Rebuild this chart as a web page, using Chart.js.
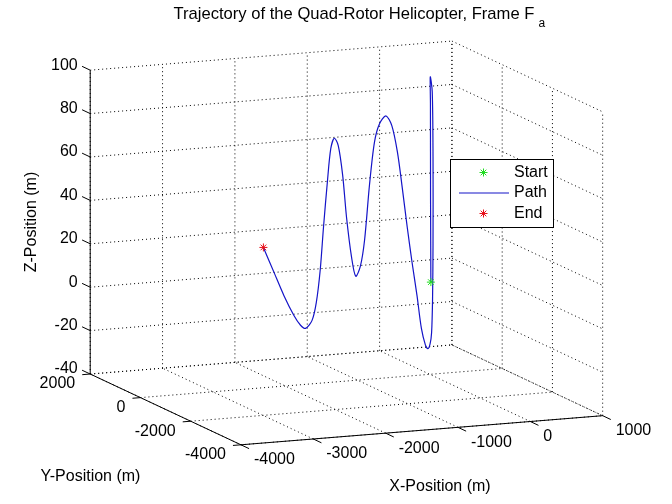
<!DOCTYPE html>
<html>
<head>
<meta charset="utf-8">
<script src="https://cdn.jsdelivr.net/npm/chart.js@4/dist/chart.umd.min.js"></script>
<style>
  html, body { margin: 0; padding: 0; background: #fff; }
  #wrap { width: 672px; height: 504px; position: relative; }
</style>
</head>
<body>
<div id="wrap"><canvas id="traj"></canvas></div>
<script>
// Axis ticks (limits are the first and last tick)
const xTicks = [-4000, -3000, -2000, -1000, 0, 1000];
const yTicks = [-4000, -2000, 0, 2000];
const zTicks = [-40, -20, 0, 20, 40, 60, 80, 100];

// Trajectory (m), from Start to End
const pathX = [17, 12, 10, 7, 40, 53, 53, 45, 29, 4,
    -32, -75, -141, -214, -296, -378, -461, -543, -635, -734,
    -845, -927, -1009, -1092, -1163, -1240, -1311, -1393, -1459, -1532,
    -1598, -1657, -1713, -1779, -1833, -1899, -1970, -2080, -2163, -2273,
    -2438, -2603, -2784];
const pathY = [8, 6, 5, 3, 20, 26, 26, 22, 14, 2,
    -16, -38, -70, -107, -148, -189, -230, -272, -318, -367,
    -422, -464, -504, -546, -582, -620, -656, -696, -730, -766,
    -799, -828, -856, -890, -916, -950, -985, -1040, -1082, -1136,
    -1219, -1302, -1392];
const pathZ = [2.4, 40, 85, 97, 90, 60, 20, -6, -21, -26,
    -28.0, -26.0, -18.1, -2.7, 12.9, 29.8, 48.4, 65.4, 77.9, 83.0,
    79.8, 71.9, 52.8, 27.7, 16.0, 11.9, 21.3, 39.8, 59.8, 73.7,
    77.4, 72.9, 58.1, 37.4, 18.1, 3.4, -4.5, -7.6, -5.7, -0.6,
    9.3, 20.8, 33.5];

const legendLabels = ['Start', 'Path', 'End'];
const seriesColors = { start: '#22dd22', path: '#1414c8', end: '#e8101a' };

// 3D view: screen position of the (xMin, yMin, zMin) corner and of each box edge
const view = {
    origin: { u: 239.5, v: 448.7 },
    ex: { u: 367.2, v: -29.7 },
    ey: { u: -153.0, v: -72.2 },
    ez: { u: 0, v: -310.0 }
};
const xLim = [xTicks[0], xTicks[xTicks.length - 1]];
const yLim = [yTicks[0], yTicks[yTicks.length - 1]];
const zLim = [zTicks[0], zTicks[zTicks.length - 1]];

function project(x, y, z) {
    const nx = (x - xLim[0]) / (xLim[1] - xLim[0]);
    const ny = (y - yLim[0]) / (yLim[1] - yLim[0]);
    const nz = (z - zLim[0]) / (zLim[1] - zLim[0]);
    return {
        x: view.origin.u + nx * view.ex.u + ny * view.ey.u + nz * view.ez.u,
        y: view.origin.v + nx * view.ex.v + ny * view.ey.v + nz * view.ez.v
    };
}

const pathPoints = pathX.map((x, i) => project(x, pathY[i], pathZ[i]));
const last = pathX.length - 1;
const startPoint = [project(pathX[0], pathY[0], pathZ[0])];
const endPoint = [project(pathX[last], pathY[last], pathZ[last])];

const FONT = '"Liberation Sans", Arial, Helvetica, sans-serif';

function px(chart, p) {
    return { x: chart.scales.x.getPixelForValue(p.x), y: chart.scales.y.getPixelForValue(p.y) };
}

function line3(ctx, chart, a, b) {
    const p = px(chart, project(a[0], a[1], a[2]));
    const q = px(chart, project(b[0], b[1], b[2]));
    ctx.moveTo(p.x, p.y);
    ctx.lineTo(q.x, q.y);
}

function unit(v) {
    const l = Math.hypot(v.u, v.v);
    return { u: v.u / l, v: v.v / l };
}

function asterisk(ctx, x, y, r, color) {
    ctx.save();
    ctx.strokeStyle = color;
    ctx.lineWidth = 1;
    ctx.beginPath();
    for (let k = 0; k < 4; k++) {
        const a = k * Math.PI / 4;
        ctx.moveTo(x - r * Math.cos(a), y - r * Math.sin(a));
        ctx.lineTo(x + r * Math.cos(a), y + r * Math.sin(a));
    }
    ctx.stroke();
    ctx.restore();
}

// Box, grid, axes and tick labels drawn under the data
const axes3d = {
    id: 'axes3d',
    beforeDatasetsDraw(chart) {
        const ctx = chart.ctx;
        const [x0, x1] = xLim, [y0, y1] = yLim, [z0, z1] = zLim;
        ctx.save();

        // dotted grid on the three back planes
        ctx.strokeStyle = '#000';
        ctx.lineWidth = 1;
        ctx.setLineDash([1, 3]);
        ctx.beginPath();
        zTicks.forEach(z => {
            line3(ctx, chart, [x0, y1, z], [x1, y1, z]);
            line3(ctx, chart, [x1, y1, z], [x1, y0, z]);
        });
        xTicks.forEach(x => {
            line3(ctx, chart, [x, y1, z0], [x, y1, z1]);
            line3(ctx, chart, [x, y0, z0], [x, y1, z0]);
        });
        yTicks.forEach(y => {
            line3(ctx, chart, [x1, y, z0], [x1, y, z1]);
            line3(ctx, chart, [x0, y, z0], [x1, y, z0]);
        });
        ctx.stroke();

        // solid axis lines
        ctx.setLineDash([]);
        ctx.beginPath();
        line3(ctx, chart, [x0, y1, z0], [x0, y1, z1]);
        line3(ctx, chart, [x0, y1, z0], [x0, y0, z0]);
        line3(ctx, chart, [x0, y0, z0], [x1, y0, z0]);
        ctx.stroke();

        // tick marks
        const dy = unit(view.ey), dx = unit(view.ex);
        ctx.beginPath();
        const tick = (p, d, len) => {
            const a = px(chart, p);
            ctx.moveTo(a.x, a.y);
            ctx.lineTo(a.x + d.u * len, a.y + d.v * len);
        };
        zTicks.forEach(z => tick(project(x0, y1, z), dy, 9));
        yTicks.forEach(y => tick(project(x0, y, z0), { u: -dx.u, v: -dx.v }, 8));
        xTicks.forEach(x => tick(project(x, y0, z0), { u: -dy.u, v: -dy.v }, 9));
        ctx.stroke();

        // tick labels
        ctx.fillStyle = '#000';
        ctx.font = '16px ' + FONT;
        ctx.textBaseline = 'middle';
        ctx.textAlign = 'right';
        zTicks.forEach(z => {
            const a = px(chart, project(x0, y1, z));
            ctx.fillText(String(z), a.x - 12.5, a.y - 5);
        });
        yTicks.forEach(y => {
            const a = px(chart, project(x0, y, z0));
            ctx.fillText(String(y), a.x - 15, a.y + 10);
        });
        ctx.textAlign = 'left';
        xTicks.forEach(x => {
            const a = px(chart, project(x, y0, z0));
            ctx.fillText(String(x), a.x + 13, a.y + 15);
        });
        ctx.restore();
    },
    afterDraw(chart) {
        const ctx = chart.ctx;
        ctx.save();
        ctx.fillStyle = '#000';

        // title with subscript
        const main = 'Trajectory of the Quad-Rotor Helicopter, Frame F';
        ctx.font = '16.6px ' + FONT;
        ctx.textAlign = 'left';
        ctx.textBaseline = 'alphabetic';
        ctx.fillText(main, 173.5, 18.5);
        const w = ctx.measureText(main).width;
        ctx.font = '12px ' + FONT;
        ctx.fillText('a', 173.5 + w + 4, 26.5);

        // axis labels
        ctx.font = '16px ' + FONT;
        ctx.textAlign = 'center';
        ctx.textBaseline = 'middle';
        ctx.fillText('Y-Position (m)', 90.5, 477);
        ctx.fillText('X-Position (m)', 440, 487);
        ctx.save();
        ctx.translate(32, 222);
        ctx.rotate(-Math.PI / 2);
        ctx.fillText('Z-Position (m)', 0, 0);
        ctx.restore();

        // legend box
        const box = { left: 450.5, top: 159.5, width: 103, height: 68 };
        ctx.fillStyle = '#fff';
        ctx.fillRect(box.left, box.top, box.width, box.height);
        ctx.strokeStyle = '#000';
        ctx.lineWidth = 1;
        ctx.strokeRect(box.left, box.top, box.width, box.height);
        const rows = [172.5, 193, 213.5];
        asterisk(ctx, 483.5, rows[0], 4, seriesColors.start);
        ctx.strokeStyle = seriesColors.path;
        ctx.lineWidth = 1.2;
        ctx.beginPath();
        ctx.moveTo(459, rows[1]);
        ctx.lineTo(509, rows[1]);
        ctx.stroke();
        asterisk(ctx, 483.5, rows[2], 4, seriesColors.end);
        ctx.fillStyle = '#000';
        ctx.textAlign = 'left';
        ctx.textBaseline = 'middle';
        legendLabels.forEach((t, i) => ctx.fillText(t, 514, rows[i]));
        ctx.restore();
    }
};

new Chart(document.getElementById('traj'), {
    type: 'scatter',
    data: {
        datasets: [
            {
                label: legendLabels[0],
                data: startPoint,
                pointStyle: 'star',
                pointRadius: 4,
                borderWidth: 1,
                borderColor: seriesColors.start,
                order: 0
            },
            {
                label: legendLabels[1],
                data: pathPoints,
                showLine: true,
                pointRadius: 0,
                borderWidth: 1.2,
                borderColor: seriesColors.path,
                tension: 0.3,
                order: 1
            },
            {
                label: legendLabels[2],
                data: endPoint,
                pointStyle: 'star',
                pointRadius: 4,
                borderWidth: 1,
                borderColor: seriesColors.end,
                order: 0
            }
        ]
    },
    options: {
        responsive: true,
        maintainAspectRatio: false,
        animation: false,
        layout: { padding: 0 },
        plugins: {
            legend: { display: false },
            tooltip: { enabled: false }
        },
        scales: {
            x: { type: 'linear', min: 0, max: 672, display: false },
            y: { type: 'linear', min: 0, max: 504, reverse: true, display: false }
        }
    },
    plugins: [axes3d]
});
</script>
</body>
</html>
